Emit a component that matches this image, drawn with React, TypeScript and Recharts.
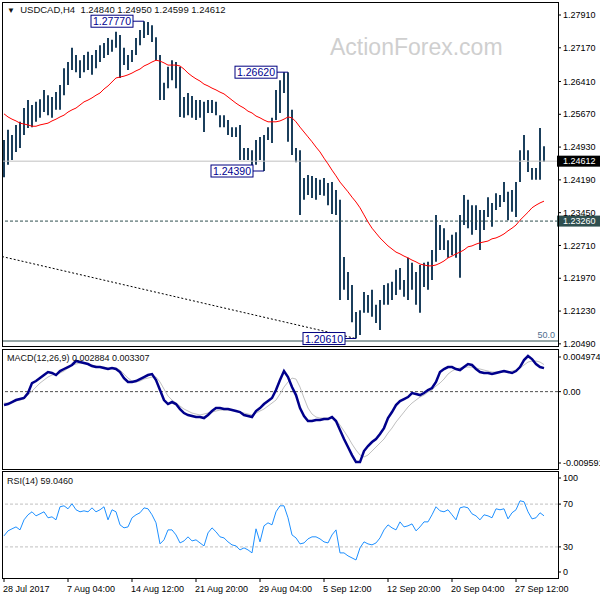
import React from 'react';
import { ComposedChart, Bar, Line, XAxis, YAxis, ReferenceLine, ReferenceDot } from 'recharts';

// H4 bars, every other bar of the window (high / low)
const barHigh = [
  1.2509, 1.2532, 1.2520, 1.2543, 1.2550, 1.2581, 1.2599, 1.2588, 1.2595, 1.2601,
  1.2622, 1.2610, 1.2606, 1.2617, 1.2633, 1.2671, 1.2685, 1.2717, 1.2701, 1.2689,
  1.2701, 1.2708, 1.2701, 1.2712, 1.2723, 1.2728, 1.2739, 1.2735, 1.2753, 1.2746,
  1.2717, 1.2701, 1.2712, 1.2739, 1.2757, 1.2777, 1.2775, 1.2768, 1.2741, 1.2701,
  1.2638, 1.2674, 1.2689, 1.2685, 1.2674, 1.2606, 1.2615, 1.2608, 1.2599, 1.2599,
  1.2595, 1.2599, 1.2599, 1.2595, 1.2565, 1.2565, 1.2554, 1.2538, 1.2538, 1.2543,
  1.2491, 1.2491, 1.2486, 1.2509, 1.2516, 1.2520, 1.2538, 1.2559, 1.2622, 1.2644,
  1.2662, 1.2662, 1.2577, 1.2491, 1.2486, 1.2423, 1.2430, 1.2428, 1.2423, 1.2419,
  1.2423, 1.2412, 1.2414, 1.2396, 1.2374, 1.2245, 1.2211, 1.2182, 1.2121, 1.2125,
  1.2166, 1.2159, 1.2171, 1.2137, 1.2148, 1.2182, 1.2186, 1.2189, 1.2216, 1.2220,
  1.2193, 1.2243, 1.2232, 1.2211, 1.2227, 1.2232, 1.2234, 1.2261, 1.2340, 1.2317,
  1.2310, 1.2283, 1.2295, 1.2301, 1.2340, 1.2385, 1.2374, 1.2362, 1.2362, 1.2351,
  1.2351, 1.2380, 1.2367, 1.2389, 1.2385, 1.2414, 1.2392, 1.2396, 1.2414, 1.2486,
  1.2520, 1.2486, 1.2446, 1.2446, 1.2536, 1.2495,
];
const barLow = [
  1.2425, 1.2453, 1.2464, 1.2482, 1.2491, 1.2520, 1.2536, 1.2538, 1.2550, 1.2559,
  1.2572, 1.2565, 1.2559, 1.2577, 1.2577, 1.2610, 1.2633, 1.2667, 1.2662, 1.2649,
  1.2662, 1.2667, 1.2656, 1.2671, 1.2685, 1.2694, 1.2701, 1.2708, 1.2717, 1.2649,
  1.2678, 1.2667, 1.2685, 1.2701, 1.2723, 1.2739, 1.2746, 1.2730, 1.2689, 1.2599,
  1.2599, 1.2626, 1.2644, 1.2626, 1.2561, 1.2559, 1.2565, 1.2559, 1.2554, 1.2559,
  1.2527, 1.2570, 1.2570, 1.2565, 1.2538, 1.2538, 1.2520, 1.2516, 1.2516, 1.2464,
  1.2464, 1.2464, 1.2441, 1.2453, 1.2464, 1.2439, 1.2509, 1.2502, 1.2554, 1.2570,
  1.2615, 1.2505, 1.2475, 1.2459, 1.2340, 1.2374, 1.2385, 1.2378, 1.2374, 1.2385,
  1.2383, 1.2362, 1.2342, 1.2340, 1.2148, 1.2171, 1.2148, 1.2098, 1.2061, 1.2069,
  1.2119, 1.2119, 1.2110, 1.2096, 1.2080, 1.2137, 1.2137, 1.2148, 1.2159, 1.2171,
  1.2155, 1.2148, 1.2171, 1.2137, 1.2119, 1.2177, 1.2171, 1.2193, 1.2234, 1.2261,
  1.2261, 1.2243, 1.2249, 1.2243, 1.2198, 1.2317, 1.2310, 1.2295, 1.2306, 1.2261,
  1.2306, 1.2335, 1.2313, 1.2351, 1.2358, 1.2369, 1.2328, 1.2347, 1.2335, 1.2414,
  1.2464, 1.2437, 1.2419, 1.2419, 1.2419, 1.2460,
];
const maValues = [
  1.2568, 1.2561, 1.2556, 1.2552, 1.2547, 1.2545, 1.2543, 1.2540, 1.2540, 1.2543,
  1.2545, 1.2547, 1.2552, 1.2556, 1.2561, 1.2565, 1.2572, 1.2577, 1.2581, 1.2588,
  1.2595, 1.2599, 1.2604, 1.2610, 1.2615, 1.2624, 1.2631, 1.2640, 1.2649, 1.2651,
  1.2653, 1.2656, 1.2660, 1.2665, 1.2669, 1.2676, 1.2680, 1.2685, 1.2689, 1.2687,
  1.2683, 1.2678, 1.2678, 1.2678, 1.2676, 1.2669, 1.2660, 1.2653, 1.2647, 1.2642,
  1.2635, 1.2631, 1.2626, 1.2622, 1.2617, 1.2613, 1.2606, 1.2599, 1.2592, 1.2586,
  1.2581, 1.2574, 1.2570, 1.2563, 1.2559, 1.2554, 1.2550, 1.2550, 1.2550, 1.2552,
  1.2556, 1.2561, 1.2559, 1.2550, 1.2538, 1.2527, 1.2516, 1.2505, 1.2493, 1.2482,
  1.2468, 1.2455, 1.2441, 1.2428, 1.2414, 1.2403, 1.2392, 1.2380, 1.2369, 1.2356,
  1.2340, 1.2324, 1.2310, 1.2299, 1.2288, 1.2279, 1.2270, 1.2263, 1.2256, 1.2252,
  1.2247, 1.2243, 1.2238, 1.2234, 1.2229, 1.2227, 1.2225, 1.2225, 1.2227, 1.2231,
  1.2236, 1.2243, 1.2247, 1.2252, 1.2256, 1.2261, 1.2268, 1.2270, 1.2274, 1.2277,
  1.2279, 1.2281, 1.2286, 1.2288, 1.2292, 1.2297, 1.2304, 1.2310, 1.2317, 1.2328,
  1.2337, 1.2346, 1.2356, 1.2362, 1.2367, 1.2371,
];
const macdMain = [
  -0.00164, -0.00152, -0.00127, -0.00103, -0.00091, -0.00078, -0.00017, 0.00105, 0.0013, 0.00166,
  0.00203, 0.0024, 0.00228, 0.00203, 0.00252, 0.00277, 0.00301, 0.00326, 0.00375, 0.00362,
  0.0035, 0.00338, 0.00313, 0.00301, 0.00301, 0.00289, 0.00277, 0.00289, 0.00277, 0.0024,
  0.00166, 0.00118, 0.00118, 0.0013, 0.00154, 0.00179, 0.00203, 0.00215, 0.00142, 0.0002,
  -0.00103, -0.00152, -0.00127, -0.00152, -0.00213, -0.00262, -0.00286, -0.00299, -0.00311, -0.00311,
  -0.00323, -0.00286, -0.00237, -0.00201, -0.00201, -0.00213, -0.00213, -0.00225, -0.00237, -0.0025,
  -0.00286, -0.00299, -0.00311, -0.00237, -0.00201, -0.00152, -0.00115, -0.00078, 0.0002, 0.00142,
  0.00252, 0.00179, 0.00056, -0.00042, -0.00201, -0.00299, -0.0036, -0.0036, -0.00348, -0.00348,
  -0.00335, -0.00335, -0.00311, -0.0036, -0.0047, -0.0058, -0.00678, -0.00776, -0.00862, -0.00862,
  -0.00727, -0.00666, -0.00617, -0.0058, -0.00519, -0.00446, -0.00323, -0.0025, -0.00164, -0.00115,
  -0.00091, -0.00066, -0.00017, -0.00029, -0.00042, -0.00017, 0.0002, 0.00044, 0.00118, 0.0024,
  0.00277, 0.00301, 0.00301, 0.00277, 0.00264, 0.00301, 0.00338, 0.00326, 0.00277, 0.0024,
  0.00228, 0.00228, 0.00215, 0.00228, 0.0024, 0.00252, 0.0024, 0.00228, 0.00252, 0.00301,
  0.00387, 0.00436, 0.00399, 0.00338, 0.00301, 0.00288,
];
const macdSignal = [
  -0.0014, -0.0014, -0.00127, -0.00115, -0.00103, -0.00091, -0.00042, 0.00007, 0.00056, 0.00105,
  0.00142, 0.00179, 0.00203, 0.00215, 0.00228, 0.00252, 0.00289, 0.00326, 0.00338, 0.0035,
  0.0035, 0.00338, 0.00326, 0.00313, 0.00301, 0.00301, 0.00289, 0.00289, 0.00289, 0.00264,
  0.00215, 0.00166, 0.0013, 0.00118, 0.0013, 0.00154, 0.00166, 0.00179, 0.00179, 0.00118,
  0.00032, -0.00054, -0.00103, -0.0014, -0.00176, -0.00213, -0.00237, -0.00262, -0.00274, -0.00286,
  -0.00274, -0.00262, -0.0025, -0.00237, -0.00225, -0.00225, -0.00225, -0.00225, -0.00237, -0.0025,
  -0.00262, -0.00274, -0.00286, -0.00262, -0.00237, -0.00213, -0.00176, -0.0014, -0.00103, -0.00029,
  0.00056, 0.00118, 0.00166, 0.00154, 0.00056, -0.00078, -0.00201, -0.00274, -0.00311, -0.00323,
  -0.00323, -0.00323, -0.00323, -0.00348, -0.00409, -0.00482, -0.00556, -0.00641, -0.00715, -0.00776,
  -0.008, -0.00776, -0.00727, -0.00678, -0.00629, -0.0058, -0.00507, -0.00446, -0.00372, -0.00311,
  -0.0025, -0.00188, -0.0014, -0.00103, -0.00066, -0.00042, -0.00005, 0.0002, 0.00069, 0.00105,
  0.00154, 0.00215, 0.00252, 0.00277, 0.00289, 0.00301, 0.00301, 0.00301, 0.00289, 0.00277,
  0.00264, 0.00252, 0.0024, 0.0024, 0.0024, 0.0024, 0.0024, 0.00252, 0.00264, 0.00289,
  0.00326, 0.00362, 0.00375, 0.00375, 0.00362, 0.00331,
];
const rsiValues = [
  40.3, 45.0, 46.9, 48.7, 45.9, 55.3, 60.0, 62.8, 59.0, 60.9,
  62.8, 57.2, 58.1, 55.3, 67.5, 68.4, 65.6, 70.3, 64.7, 62.8,
  63.7, 62.8, 66.5, 62.8, 64.7, 67.5, 55.3, 64.7, 62.8, 50.6,
  47.8, 48.7, 57.2, 60.0, 61.9, 66.5, 65.6, 60.0, 52.5, 32.8,
  36.6, 45.9, 45.9, 41.2, 33.7, 35.6, 39.4, 35.6, 36.6, 33.7,
  30.9, 43.1, 47.8, 44.1, 39.4, 38.4, 34.7, 31.9, 30.9, 27.2,
  29.1, 27.2, 24.4, 46.9, 34.7, 49.7, 52.5, 50.6, 62.8, 68.4,
  68.4, 57.2, 41.2, 38.4, 32.8, 33.7, 37.5, 39.4, 39.4, 37.5,
  34.7, 33.7, 41.2, 45.9, 24.4, 24.4, 21.6, 19.7, 17.8, 29.1,
  34.7, 32.8, 31.9, 33.7, 38.4, 45.9, 50.6, 47.8, 45.9, 53.4,
  48.7, 49.7, 51.5, 45.0, 48.7, 53.4, 53.4, 60.0, 67.5, 63.7,
  62.8, 64.7, 60.0, 55.3, 66.5, 67.5, 66.5, 60.9, 59.0, 55.3,
  60.0, 59.0, 57.2, 65.6, 64.7, 65.6, 56.2, 61.9, 64.7, 73.1,
  72.2, 62.8, 56.2, 57.2, 61.9, 59.05,
];

const xTickIndex = [0, 16, 32, 48, 64, 80, 96, 112, 128];
const xTickLabels = [
  '28 Jul 2017', '7 Aug 04:00', '14 Aug 12:00', '21 Aug 20:00', '29 Aug 04:00',
  '5 Sep 12:00', '12 Sep 20:00', '20 Sep 04:00', '27 Sep 12:00',
];
const priceTicks = [1.2791, 1.2717, 1.2641, 1.2567, 1.2493, 1.2419, 1.2345, 1.2271, 1.2197, 1.2123, 1.2049];
const macdTicks = [0.004974, 0, -0.009591];
const macdTickLabels = ['0.004974', '0.00', '-0.009591'];
const rsiTicks = [100, 70, 30, 0];
const rsiLevels = [70, 30];

const swingTags = [
  { i: 35, price: 1.2777, text: '1.27770' },
  { i: 71, price: 1.2662, text: '1.26620' },
  { i: 65, price: 1.2439, text: '1.24390' },
  { i: 88, price: 1.2061, text: '1.20610' },
];
const lastPrice = 1.24612;
const supportLevel = 1.2326;
const fibLevel = 1.20554;
const fibTrend = [
  { i: -0.5, price: 1.2246 },
  { i: 88, price: 1.2061 },
];

const FONT = "'Liberation Sans', Arial, sans-serif";
const X_DOMAIN = [-0.5, 138.5];
const BAR_COLOR = '#1b3f5c';

const priceData = barHigh.map((h, i) => ({ i, range: [barLow[i], h], ma: maValues[i] }));
const macdData = macdMain.map((m, i) => ({ i, macd: m, signal: macdSignal[i] }));
const rsiData = rsiValues.map((r, i) => ({ i, rsi: r }));

const makeYTick = (format: (v: number) => string, nudge: (v: number) => number = () => 0) =>
  ({ x, y, payload }: any) => {
    const ty = y + nudge(payload.value);
    return (
      <g>
        <line x1={x} x2={x + 3} y1={ty} y2={ty} stroke="#000" />
        <text x={x + 5} y={ty + 3.2} fontSize={9} fontFamily={FONT} fill="#000">
          {format(payload.value)}
        </text>
      </g>
    );
  };

const TimeTick = ({ x, y, payload }: any) => {
  const k = xTickIndex.indexOf(payload.value);
  return (
    <g>
      <line x1={x} x2={x} y1={y - 1} y2={y + 3} stroke="#000" />
      <text x={x - 1} y={y + 13} fontSize={9} fontFamily={FONT} fill="#000">
        {xTickLabels[k]}
      </text>
    </g>
  );
};

const SwingTag = ({ cx, cy, text }: any) => {
  const right = cx - 11;
  return (
    <g>
      <line x1={right} x2={cx} y1={cy} y2={cy} stroke="#000080" />
      <rect x={right - 42} y={cy - 6} width={42} height={12} fill="#fff" stroke="#000080" />
      <text x={right - 21} y={cy + 4} textAnchor="middle" fontSize={10.5} fontFamily={FONT} fill="#000090">
        {text}
      </text>
    </g>
  );
};

const axisTag = (text: string, bg: string) => ({ viewBox }: any) => {
  const x = viewBox.x + viewBox.width;
  return (
    <g>
      <rect x={x - 1} y={viewBox.y - 5.5} width={44} height={11} fill={bg} />
      <text x={x + 5} y={viewBox.y + 3.2} fontSize={9} fontFamily={FONT} fill="#fff">{text}</text>
    </g>
  );
};

const fibLabel = ({ viewBox }: any) => (
  <text x={viewBox.x + viewBox.width - 3} y={viewBox.y - 3} textAnchor="end" fontSize={9} fontFamily={FONT} fill="#4e6e8e">
    50.0
  </text>
);

const frame = (top: number, height: number): React.CSSProperties => ({
  position: 'absolute', left: 2, top, width: 557, height,
  border: '1px solid #000', boxSizing: 'border-box', pointerEvents: 'none',
});

const panelText: React.CSSProperties = {
  position: 'absolute', left: 7, height: 12, lineHeight: '12px',
  fontSize: 9, fontFamily: FONT, color: '#111', whiteSpace: 'pre',
};

export default function App() {
  return (
    <div style={{ position: 'absolute', left: 0, top: 0, width: 600, height: 600, background: '#fff', overflow: 'hidden' }}>
      <div style={{ position: 'absolute', left: 330, top: 34, fontSize: 23, fontFamily: FONT, color: '#cfcfcf', whiteSpace: 'pre' }}>
        ActionForex.com
      </div>

      <div style={{ position: 'absolute', top: 0, left: 0 }}>
        <ComposedChart width={600} height={348} data={priceData} margin={{ top: 3, right: 0, bottom: 3, left: 2 }}>
          <XAxis dataKey="i" type="number" domain={X_DOMAIN} allowDataOverflow hide />
          <YAxis
            orientation="right" width={42} type="number" domain={[1.20464, 1.28181]} allowDataOverflow
            ticks={priceTicks} interval={0} tickSize={0} tickMargin={0} axisLine={false}
            tick={makeYTick((v) => v.toFixed(5))}
          />
          <ReferenceLine y={lastPrice} stroke="#c0c0c0" label={axisTag('1.24612', '#000')} />
          <ReferenceLine y={supportLevel} stroke="#2f4f4f" strokeDasharray="3 2" label={axisTag('1.23260', '#2f4f4f')} />
          <ReferenceLine y={fibLevel} stroke="#2f4f4f" label={fibLabel} />
          <ReferenceLine
            segment={fibTrend.map((p) => ({ x: p.i, y: p.price }))}
            stroke="#000" strokeDasharray="2 2"
          />
          <Bar dataKey="range" fill={BAR_COLOR} barSize={2} isAnimationActive={false} />
          <Line type="linear" dataKey="ma" stroke="#ff0000" strokeWidth={1} dot={false} isAnimationActive={false} />
          {swingTags.map((t) => (
            <ReferenceDot key={t.text} x={t.i} y={t.price} r={0} shape={(s: any) => <SwingTag {...s} text={t.text} />} />
          ))}
        </ComposedChart>
      </div>

      <div style={{ position: 'absolute', top: 345, left: 0 }}>
        <ComposedChart width={600} height={130} data={macdData} margin={{ top: 6, right: 0, bottom: 5, left: 2 }}>
          <XAxis dataKey="i" type="number" domain={X_DOMAIN} allowDataOverflow hide />
          <YAxis
            orientation="right" width={42} type="number" domain={[-0.009591, 0.004974]} allowDataOverflow
            ticks={macdTicks} interval={0} tickSize={0} tickMargin={0} axisLine={false}
            tick={makeYTick((v) => macdTickLabels[macdTicks.indexOf(v)], (v) => (v > 0 ? 6 : v < 0 ? -7 : 0))}
          />
          <ReferenceLine y={0} stroke="#505050" strokeDasharray="3 2" />
          <Line type="linear" dataKey="signal" stroke="#c0c0c0" strokeWidth={1} dot={false} isAnimationActive={false} />
          <Line type="linear" dataKey="macd" stroke="#00008b" strokeWidth={2.5} dot={false} isAnimationActive={false} />
        </ComposedChart>
      </div>

      <div style={{ position: 'absolute', top: 470, left: 0 }}>
        <ComposedChart width={600} height={130} data={rsiData} margin={{ top: 2, right: 0, bottom: 0, left: 2 }}>
          <XAxis
            dataKey="i" type="number" domain={X_DOMAIN} allowDataOverflow height={21}
            ticks={xTickIndex} interval={0} tickSize={0} tickMargin={0} axisLine={false} tick={<TimeTick />}
          />
          <YAxis
            orientation="right" width={42} type="number" domain={[0, 100]} allowDataOverflow
            ticks={rsiTicks} interval={0} tickSize={0} tickMargin={0} axisLine={false}
            tick={makeYTick((v) => String(v), (v) => (v === 100 ? 6 : v === 0 ? -7 : 0))}
          />
          {rsiLevels.map((lv) => (
            <ReferenceLine key={lv} y={lv} stroke="#c0c0c0" strokeDasharray="3 2" />
          ))}
          <Line type="linear" dataKey="rsi" stroke="#1e90ff" strokeWidth={1} dot={false} isAnimationActive={false} />
        </ComposedChart>
      </div>

      <div style={frame(2, 345)} />
      <div style={frame(349, 121)} />
      <div style={frame(471, 108)} />

      <div style={{ ...panelText, top: 4, fontSize: 9.5 }}>
        <span style={{ fontSize: 8 }}>▼</span>{'  USDCAD,H4  1.24840 1.24950 1.24599 1.24612'}
      </div>
      <div style={{ ...panelText, top: 352 }}>MACD(12,26,9) 0.002884 0.003307</div>
      <div style={{ ...panelText, top: 475 }}>RSI(14) 59.0460</div>
    </div>
  );
}
